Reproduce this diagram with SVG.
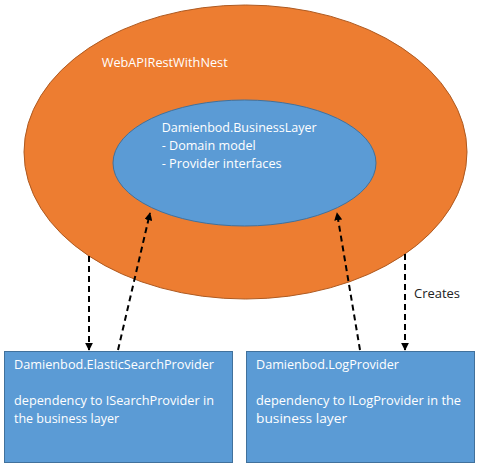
<svg xmlns="http://www.w3.org/2000/svg" width="480" height="469" viewBox="0 0 480 469">
<defs>
<marker id="ah" viewBox="0 0 10 10" refX="9" refY="5" markerWidth="4" markerHeight="4" orient="auto" markerUnits="strokeWidth">
<path d="M0,0 L10,5 L0,10 z" fill="#000"/>
</marker>
<style>
text{font-family:"Open Sans","Liberation Sans",sans-serif;font-size:13.5px;fill:#ffffff}
.lbl{fill:#222222}
.box{fill:#5B9BD5;stroke:#41719C;stroke-width:1}
.con{fill:none;stroke:#000;stroke-width:2;stroke-dasharray:6 4;marker-end:url(#ah)}
</style>
</defs>
<rect width="480" height="469" fill="#ffffff"/>
<g id="web">
<ellipse cx="245.5" cy="152" rx="221.5" ry="147" fill="#ED7D31" stroke="#AE5A21" stroke-width="1"/>
<text x="101.7" y="67" textLength="126" lengthAdjust="spacingAndGlyphs">WebAPIRestWithNest</text>
</g>
<g id="business">
<ellipse cx="244.5" cy="163" rx="131.5" ry="63" fill="#5B9BD5" stroke="#41719C" stroke-width="1"/>
<text x="161.7" y="132" textLength="155" lengthAdjust="spacingAndGlyphs">Damienbod.BusinessLayer</text>
<text x="161.7" y="150" textLength="94" lengthAdjust="spacingAndGlyphs">- Domain model</text>
<text x="161.7" y="168" textLength="120" lengthAdjust="spacingAndGlyphs">- Provider interfaces</text>
</g>
<g id="elastic">
<rect class="box" x="4.5" y="351.5" width="228" height="111"/>
<text x="14" y="369" textLength="200" lengthAdjust="spacingAndGlyphs">Damienbod.ElasticSearchProvider</text>
<text x="14" y="405" textLength="200" lengthAdjust="spacingAndGlyphs">dependency to ISearchProvider in</text>
<text x="14" y="423" textLength="105" lengthAdjust="spacingAndGlyphs">the business layer</text>
</g>
<g id="log">
<rect class="box" x="246.5" y="351.5" width="228" height="111"/>
<text x="256" y="369" textLength="143" lengthAdjust="spacingAndGlyphs">Damienbod.LogProvider</text>
<text x="256" y="405" textLength="205" lengthAdjust="spacingAndGlyphs">dependency to ILogProvider in the</text>
<text x="256" y="423" textLength="91" lengthAdjust="spacingAndGlyphs">business layer</text>
</g>
<g id="connectors">
<line class="con" x1="89" y1="256" x2="89" y2="350"/>
<line class="con" x1="118" y1="350" x2="150" y2="213"/>
<line class="con" x1="360" y1="350" x2="337" y2="213"/>
<line class="con" x1="405" y1="254" x2="405" y2="350"/>
<text class="lbl" x="414" y="298" textLength="46" lengthAdjust="spacingAndGlyphs">Creates</text>
</g>
</svg>
